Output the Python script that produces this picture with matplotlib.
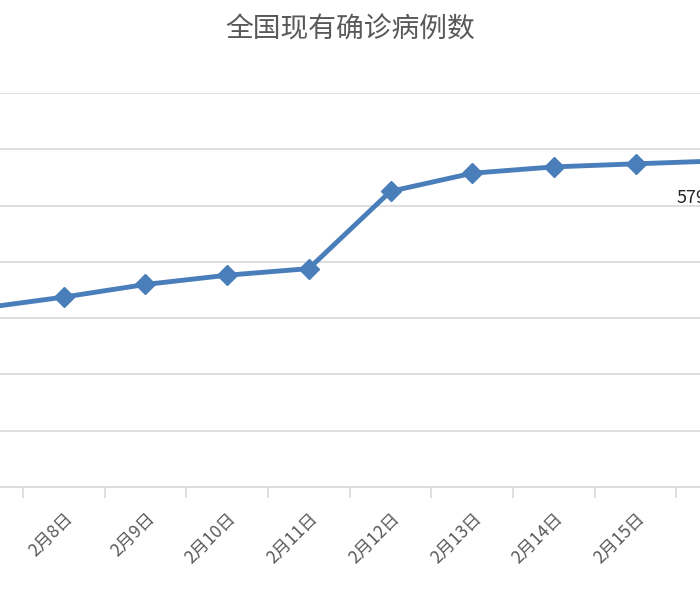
import matplotlib.pyplot as plt

plt.rcParams['font.family'] = ['Noto Sans CJK SC', 'DejaVu Sans']

dates = ['2月7日', '2月8日', '2月9日', '2月10日', '2月11日', '2月12日',
         '2月13日', '2月14日', '2月15日', '2月16日']
cases = [31774, 33738, 35982, 37626, 38800, 52526, 55748, 56873, 57416, 57934]

fig = plt.figure(figsize=(7, 6), dpi=100)
ax = fig.add_axes([0, 113/600, 1, 394/600])
x = list(range(len(dates)))
ax.plot(x, cases, color='#4a7ebb', linewidth=3.5, marker='D', markersize=10, clip_on=False)

ax.set_ylim(0, 70000)
ax.set_yticks(range(0, 70001, 10000))
ax.grid(axis='y', color='#d9d9d9', linewidth=1.2)
ax.set_axisbelow(True)
for s in ['left', 'right', 'top']:
    ax.spines[s].set_visible(False)
ax.spines['bottom'].set_color('#d9d9d9')
ax.spines['bottom'].set_linewidth(1.2)
ax.tick_params(axis='y', left=False, labelleft=False)

ax.set_xticks([i + 0.5 for i in range(-1, len(dates))])
ax.set_xticklabels([])
ax.tick_params(axis='x', which='major', length=8, color='#d9d9d9', width=1.2)
ax.set_xticks(x, minor=True)
ax.set_xticklabels(dates, minor=True, rotation=45, ha='right', va='top',
                   rotation_mode='anchor', fontsize=12.5, color='#595959')
ax.tick_params(axis='x', which='minor', length=0, pad=16)
ax.set_xlim(18/81.7, 18/81.7 + 700/81.7)

ax.annotate(str(cases[-1]), (x[-1], cases[-1]), xytext=(-41, -37),
            textcoords='offset pixels', ha='left', va='center',
            fontsize=13, color='#262626', annotation_clip=False)

fig.text(0.5, 1 - 30/600, '全国现有确诊病例数', ha='center', va='center',
         fontsize=20, color='#595959')

fig.savefig('out.png')
